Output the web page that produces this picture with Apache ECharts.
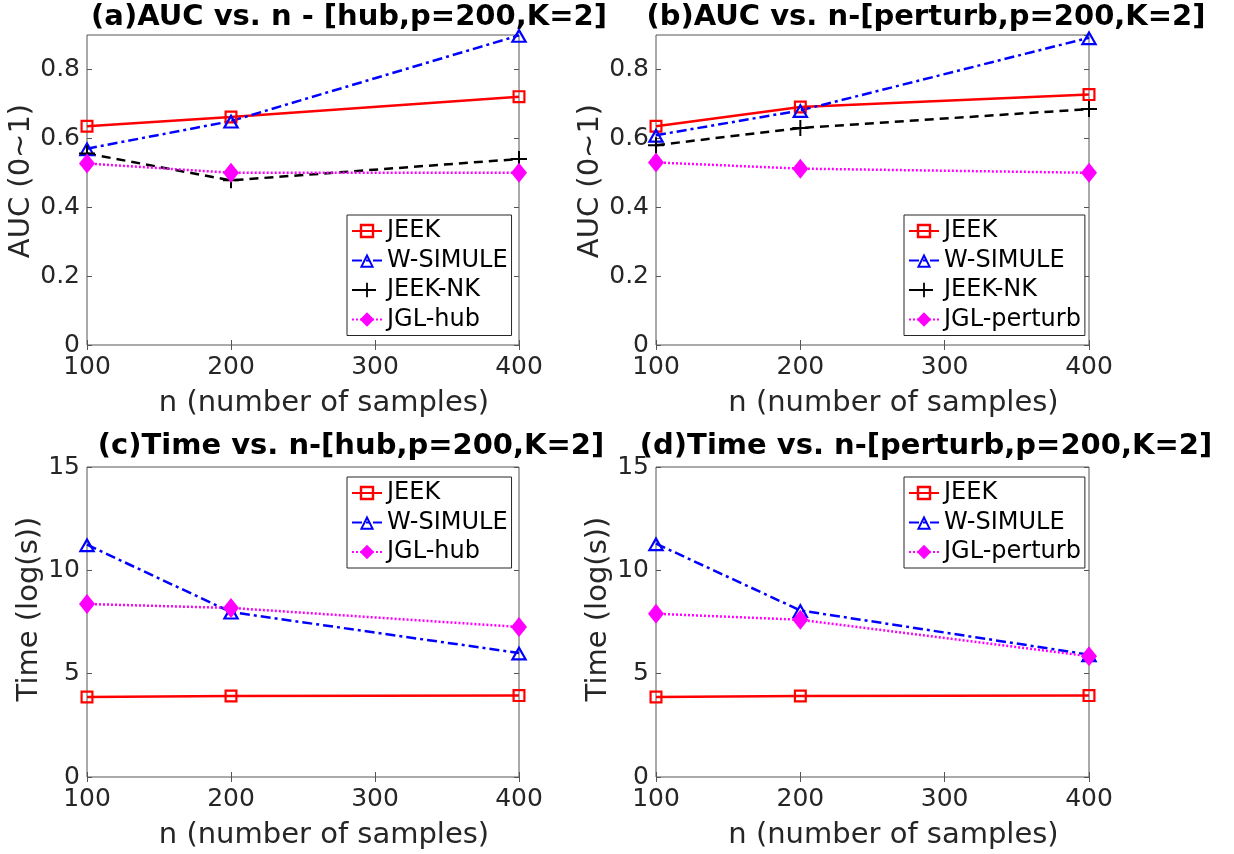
<!DOCTYPE html>
<html lang="en" style="height: 100%">
<head>
  <meta charset="utf-8">
  <style>
    html,body {
      margin: 0;
      padding: 0;
      width: 100%;
      height: 100%;
      overflow: hidden;
      background: #fff;
    }
  </style>
</head>
<body>
  <div id="container" style="height: 854px;width: 1234px;"></div>

  <script type="text/javascript" src="https://cdn.jsdelivr.net/npm/echarts@6/dist/echarts.min.js"></script>
  <script type="text/javascript">
    // data
    let nSamples = [100, 200, 400];

    let aucHubJEEK = [0.635, 0.662, 0.721];
    let aucHubWSIMULE = [0.570, 0.650, 0.899];
    let aucHubJEEKNK = [0.556, 0.478, 0.540];
    let aucHubJGL = [0.527, 0.500, 0.500];

    let aucPerturbJEEK = [0.635, 0.691, 0.727];
    let aucPerturbWSIMULE = [0.609, 0.681, 0.892];
    let aucPerturbJEEKNK = [0.580, 0.630, 0.685];
    let aucPerturbJGL = [0.530, 0.512, 0.500];

    let timeHubJEEK = [3.87, 3.92, 3.94];
    let timeHubWSIMULE = [11.24, 7.98, 6.00];
    let timeHubJGL = [8.37, 8.18, 7.26];

    let timePerturbJEEK = [3.87, 3.92, 3.94];
    let timePerturbWSIMULE = [11.29, 8.06, 5.92];
    let timePerturbJGL = [7.90, 7.61, 5.84];

    let titles = [
      '(a)AUC vs. n - [hub,p=200,K=2]',
      '(b)AUC vs. n-[perturb,p=200,K=2]',
      '(c)Time vs. n-[hub,p=200,K=2]',
      '(d)Time vs. n-[perturb,p=200,K=2]'
    ];
    let xName = 'n (number of samples)';
    let aucName = 'AUC (0~1)';
    let timeName = 'Time (log(s))';

    var dom = document.getElementById('container');
    var myChart = echarts.init(dom, null, { renderer: 'canvas' });

    let font = 'DejaVu Sans';
    let frameColor = '#555555';
    let textColor = '#262626';

    let squareSym = 'path://M0,0H12V12H0Z M2,2V10H10V2Z';
    let triangleSym = 'path://M8,0L16,14L0,14Z M8,4.3L3.5,12L12.5,12Z';
    let plusSym = 'path://M7,0H9V7H16V9H9V16H7V9H0V7H7Z';

    let grids = [
      { left: 87, top: 35, width: 432, height: 310 },
      { left: 656, top: 35, width: 433, height: 310 },
      { left: 87, top: 467, width: 432, height: 310 },
      { left: 656, top: 467, width: 433, height: 310 }
    ];
    let titlePos = [[349, 17], [926, 17], [351, 446], [926, 446]];
    let legendPos = [[347, 215], [904, 215], [347, 477], [904, 477]];

    function pairs(vals) {
      return nSamples.map(function (n, i) { return [n, vals[i]]; });
    }

    function mkSeries(name, kind, vals, idx) {
      let s = {
        name: name,
        type: 'line',
        xAxisIndex: idx * 2,
        yAxisIndex: idx * 2,
        data: pairs(vals),
        animation: false
      };
      if (kind === 'jeek') {
        s.symbol = squareSym; s.symbolSize = 13;
        s.itemStyle = { color: '#ff0000' };
        s.lineStyle = { color: '#ff0000', width: 2.5 };
      } else if (kind === 'wsim') {
        s.symbol = triangleSym; s.symbolSize = [17, 15];
        s.itemStyle = { color: '#0000ff' };
        s.lineStyle = { color: '#0000ff', width: 2.5, type: [10, 4, 3, 4] };
      } else if (kind === 'nk') {
        s.symbol = plusSym; s.symbolSize = 16;
        s.itemStyle = { color: '#000000' };
        s.lineStyle = { color: '#000000', width: 2.5, type: [9, 6] };
      } else {
        s.symbol = 'diamond'; s.symbolSize = [16, 20];
        s.itemStyle = { color: '#ff00ff' };
        s.lineStyle = { color: '#ff00ff', width: 2.5, type: [2, 2] };
      }
      return s;
    }

    let xAxes = [];
    let yAxes = [];
    for (let i = 0; i < 4; i++) {
      let isAuc = i < 2;
      let tick = { show: true, inside: true, length: 5, lineStyle: { color: frameColor } };
      xAxes.push({
        type: 'value', gridIndex: i, position: 'bottom',
        min: 100, max: 400, interval: 100,
        axisLine: { show: false }, axisTick: tick, splitLine: { show: false },
        axisLabel: { fontFamily: font, fontSize: 25, color: textColor, margin: 10 },
        name: xName, nameLocation: 'middle', nameGap: 44,
        nameTextStyle: { fontFamily: font, fontSize: 29, color: textColor, padding: [0, 0, 0, 42] }
      });
      xAxes.push({
        type: 'value', gridIndex: i, position: 'top',
        min: 100, max: 400, interval: 100,
        axisLine: { show: false }, axisTick: tick, splitLine: { show: false },
        axisLabel: { show: false }
      });
      yAxes.push({
        type: 'value', gridIndex: i, position: 'left',
        min: 0, max: isAuc ? 0.9 : 15, interval: isAuc ? 0.2 : 5,
        axisLine: { show: false }, axisTick: tick, splitLine: { show: false },
        axisLabel: { fontFamily: font, fontSize: 25, color: textColor, margin: 7, showMaxLabel: !isAuc },
        name: isAuc ? aucName : timeName, nameLocation: 'middle',
        nameGap: isAuc ? 48 : 42,
        nameTextStyle: { fontFamily: font, fontSize: 29, color: textColor, padding: [0, 0, 0, isAuc ? 18 : 26] }
      });
      yAxes.push({
        type: 'value', gridIndex: i, position: 'right',
        min: 0, max: isAuc ? 0.9 : 15, interval: isAuc ? 0.2 : 5,
        axisLine: { show: false }, axisTick: tick, splitLine: { show: false },
        axisLabel: { show: false }
      });
    }

    let series = [
      mkSeries('JEEK', 'jeek', aucHubJEEK, 0),
      mkSeries('W-SIMULE', 'wsim', aucHubWSIMULE, 0),
      mkSeries('JEEK-NK', 'nk', aucHubJEEKNK, 0),
      mkSeries('JGL-hub', 'jgl', aucHubJGL, 0),
      mkSeries('JEEK', 'jeek', aucPerturbJEEK, 1),
      mkSeries('W-SIMULE', 'wsim', aucPerturbWSIMULE, 1),
      mkSeries('JEEK-NK', 'nk', aucPerturbJEEKNK, 1),
      mkSeries('JGL-perturb', 'jgl', aucPerturbJGL, 1),
      mkSeries('JEEK', 'jeek', timeHubJEEK, 2),
      mkSeries('W-SIMULE', 'wsim', timeHubWSIMULE, 2),
      mkSeries('JGL-hub', 'jgl', timeHubJGL, 2),
      mkSeries('JEEK', 'jeek', timePerturbJEEK, 3),
      mkSeries('W-SIMULE', 'wsim', timePerturbWSIMULE, 3),
      mkSeries('JGL-perturb', 'jgl', timePerturbJGL, 3)
    ];

    let legendData = [
      ['JEEK', 'W-SIMULE', 'JEEK-NK', 'JGL-hub'],
      ['JEEK', 'W-SIMULE', 'JEEK-NK', 'JGL-perturb'],
      ['JEEK', 'W-SIMULE', 'JGL-hub'],
      ['JEEK', 'W-SIMULE', 'JGL-perturb']
    ];
    let legends = legendData.map(function (d, i) {
      return {
        data: d, orient: 'vertical',
        left: legendPos[i][0], top: legendPos[i][1],
        padding: [4, 4, 4, 4], itemGap: 5.5,
        itemWidth: 30, itemHeight: 18,
        borderColor: '#262626', borderWidth: 1, backgroundColor: '#fff',
        selectedMode: false,
        textStyle: { fontFamily: font, fontSize: 24, color: '#000', lineHeight: 24 }
      };
    });

    let graphics = titles.map(function (t, i) {
      return {
        type: 'text', x: titlePos[i][0], y: titlePos[i][1],
        style: {
          text: t, fill: '#000',
          font: 'bold 29px "DejaVu Sans"',
          textAlign: 'center', textVerticalAlign: 'middle',
          align: 'center', verticalAlign: 'middle'
        }
      };
    });

    let option = {
      backgroundColor: '#fff',
      animation: false,
      grid: grids.map(function (g) {
        return Object.assign({ show: true, borderColor: frameColor, borderWidth: 1, backgroundColor: 'transparent' }, g);
      }),
      xAxis: xAxes,
      yAxis: yAxes,
      legend: legends,
      graphic: graphics,
      series: series
    };

    myChart.setOption(option);
    window.addEventListener('resize', myChart.resize);
  </script>
</body>
</html>
